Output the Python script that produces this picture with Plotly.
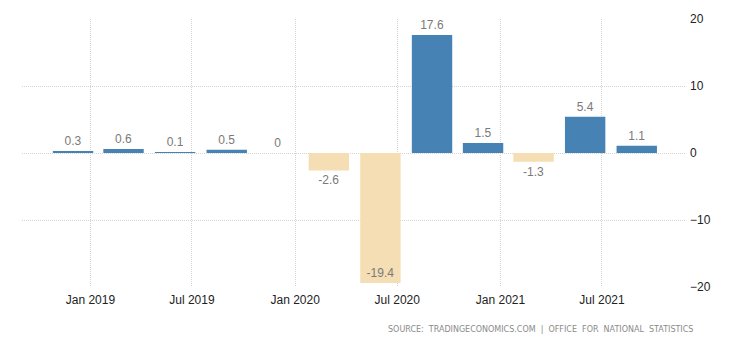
import plotly.graph_objects as go

periods = ["2018-12-01", "2019-03-01", "2019-06-01", "2019-09-01", "2019-12-01",
           "2020-03-01", "2020-06-01", "2020-09-01", "2020-12-01", "2021-03-01",
           "2021-06-01", "2021-09-01"]
growth = [0.3, 0.6, 0.1, 0.5, 0.0, -2.6, -19.4, 17.6, 1.5, -1.3, 5.4, 1.1]
labels = ["0.3", "0.6", "0.1", "0.5", "0", "-2.6", "-19.4", "17.6", "1.5", "-1.3", "5.4", "1.1"]
y_ticks = [-20, -10, 0, 10, 20]
source_text = "SOURCE:  TRADINGECONOMICS.COM  |  OFFICE  FOR  NATIONAL  STATISTICS"

BLUE = "#4682B4"
TAN = "#F5DEB3"
colors = [BLUE if v >= 0 else TAN for v in growth]
positions = ["inside" if v < -15 else "outside" for v in growth]
LABEL_FONT = dict(family="Liberation Sans, Arial, sans-serif", size=12, color="#7a7a7a")

fig = go.Figure()
fig.add_trace(go.Bar(
    x=periods, y=growth,
    width=[72 * 86400000] * len(growth),
    marker=dict(color=colors, line=dict(width=0)),
    text=labels, textposition=positions,
    insidetextanchor="end",
    textfont=LABEL_FONT, insidetextfont=LABEL_FONT, outsidetextfont=LABEL_FONT,
    cliponaxis=False,
    hoverinfo="skip",
))

GRID = "#d4d4d4"
fig.update_layout(
    width=740, height=345,
    margin=dict(l=22, r=55, t=19, b=58),
    plot_bgcolor="white", paper_bgcolor="white",
    showlegend=False,
    font=dict(family="Liberation Sans, Arial, sans-serif", size=12, color="#222222"),
    xaxis=dict(
        type="date",
        range=["2018-09-01", "2021-11-26"],
        tick0="2019-01-01", dtick="M6", tickformat="%b %Y",
        showgrid=True, gridcolor=GRID, griddash="1px,1px", gridwidth=1,
        showline=False, zeroline=False,
        ticks="", ticklabelstandoff=4,
        tickfont=dict(size=12, color="#222222"),
    ),
    yaxis=dict(
        side="right",
        range=[-20, 20],
        tickvals=y_ticks,
        showgrid=True, gridcolor=GRID, griddash="1px,1px", gridwidth=1,
        zeroline=False, showline=False,
        ticks="", ticklabelstandoff=4,
        tickfont=dict(size=12, color="#222222"),
    ),
    annotations=[dict(
        text=source_text, xref="paper", yref="paper",
        x=1.015, y=-0.157, xanchor="right", yanchor="middle",
        showarrow=False,
        font=dict(family="DejaVu Sans, sans-serif", size=8, color="#8a8a8a"),
    )],
)

fig.write_html("out.html")
